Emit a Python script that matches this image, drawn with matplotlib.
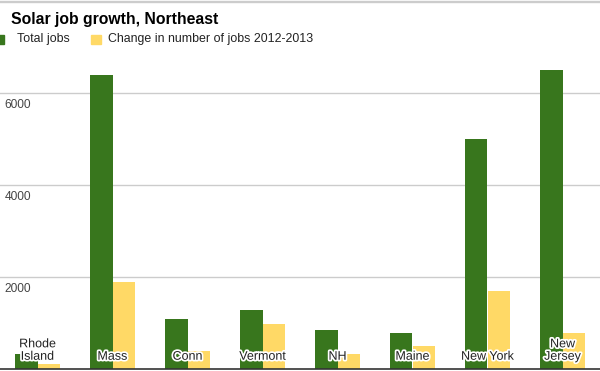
import matplotlib
matplotlib.use("Agg")
import matplotlib.pyplot as plt
import matplotlib.patheffects as pe
import matplotlib.transforms as mtransforms
import numpy as np

plt.rcParams['font.family'] = ['Liberation Sans', 'DejaVu Sans']

states = ["Rhode\nIsland", "Mass", "Conn", "Vermont", "NH", "Maine", "New York", "New\nJersey"]
total_jobs = [330, 6400, 1090, 1280, 850, 780, 5000, 6500]
change_jobs = [110, 1900, 400, 980, 330, 500, 1700, 780]
yticks = [2000, 4000, 6000, 8000]
series_names = ["Total jobs", "Change in number of jobs 2012-2013"]
green = "#38761d"
yellow = "#ffd966"

fig = plt.figure(figsize=(6, 3.71), dpi=100)
ax = fig.add_axes([0, 2/371, 1, 367.4/371])

x = np.arange(len(states))
w = 0.3
ax.bar(x - w/2, total_jobs, width=w, color=green, zorder=2)
ax.bar(x + w/2, change_jobs, width=w, color=yellow, zorder=2)

ax.set_xlim(-0.5, len(states) - 0.5)
ax.set_ylim(0, 8000)
for s in ["top", "left", "right"]:
    ax.spines[s].set_visible(False)
ax.spines["bottom"].set_color("#333333")
ax.spines["bottom"].set_linewidth(1.2)
ax.set_xticks([])
ax.set_yticks([])
for t in yticks:
    ax.axhline(t, color="#cccccc", linewidth=1, zorder=1)

trans = mtransforms.blended_transform_factory(ax.transAxes, ax.transData)
for t in yticks[:-1]:
    ax.annotate(f"{t}", xy=(0, t), xycoords=trans, xytext=(3.5, -4),
                textcoords="offset points", ha="left", va="top",
                fontsize=8.6, color="#444444")

for xi, lab in zip(x, states):
    ax.annotate(lab, xy=(xi, 0), xytext=(0, 4.5), textcoords="offset points",
                ha="center", va="bottom", fontsize=9, color="#222222",
                linespacing=1.05, zorder=5,
                path_effects=[pe.withStroke(linewidth=2.5, foreground="white")])

fig.text(11/600, 1 - 24/371, "Solar job growth, Northeast", fontsize=11.3,
         fontweight="bold", color="#000000", ha="left", va="baseline")

# legend
fig.patches.append(plt.Rectangle((-5.5/600, 1 - 44/371), 9.5/600, 9.5/371,
                                 transform=fig.transFigure, color=green))
fig.text(17/600, 1 - 39/371, series_names[0], fontsize=8.9, color="#222222",
         ha="left", va="center")
fig.patches.append(plt.Rectangle((91/600, 1 - 44/371), 9.5/600, 9.5/371,
                                 transform=fig.transFigure, color=yellow))
fig.text(108/600, 1 - 39/371, series_names[1], fontsize=8.9, color="#222222",
         ha="left", va="center")

fig.add_artist(plt.Line2D([0, 1], [1 - 1/371, 1 - 1/371], transform=fig.transFigure,
                          color="#cccccc", linewidth=1))

fig.savefig("out.png", dpi=100)
